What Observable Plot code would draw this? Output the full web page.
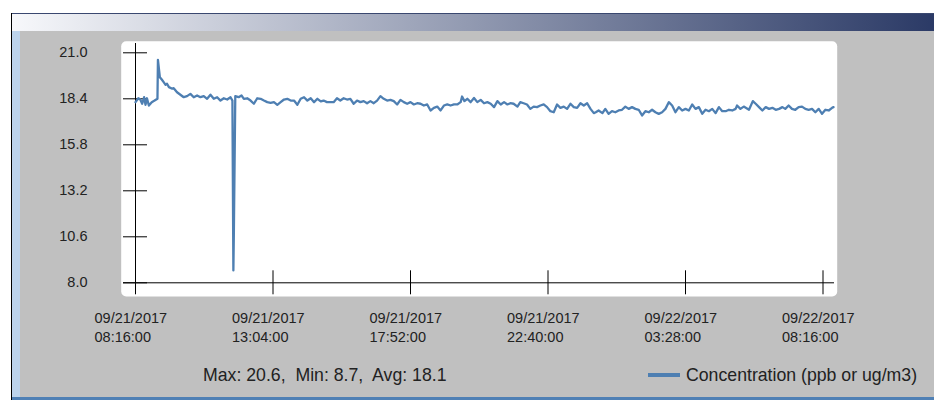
<!DOCTYPE html>
<html><head><meta charset="utf-8">
<script src="https://cdn.jsdelivr.net/npm/d3@7"></script>
<script src="https://cdn.jsdelivr.net/npm/@observablehq/plot@0.6"></script>
<style>
html,body{margin:0;padding:0;background:#fff;}
#win{position:relative;width:934px;height:400px;overflow:hidden;font-family:"Liberation Sans",Arial,sans-serif;}
.abs{position:absolute;}
</style></head><body>
<div id="win">
  <div class="abs" style="left:12px;top:13px;width:922px;height:18px;background:linear-gradient(to right,#f7f8fb,#2b3a66);border-top:1px solid #3a4870;box-sizing:border-box"></div>
  <div class="abs" style="left:11px;top:13px;width:1px;height:387px;background:#000"></div>
  <div class="abs" style="left:12px;top:31px;width:8px;height:369px;background:#bcd3ec"></div>
  <div class="abs" style="left:20px;top:31px;width:914px;height:366px;background:#c0c0c0"></div>
  <div class="abs" style="left:12px;top:397px;width:922px;height:3px;background:#4f80b5"></div>
  <div id="chart" class="abs" style="left:0;top:0"></div>
  <div id="stats" class="abs" style="left:203px;top:365px;font-size:17.7px;line-height:20px;color:#222;white-space:pre"></div>
  <div id="swatch" class="abs" style="left:648px;top:373px;width:32px;height:4px"></div>
  <div id="legend" class="abs" style="left:686px;top:365px;font-size:17.7px;line-height:20px;color:#222;white-space:pre"></div>
</div>
<script>
// Minutes after 09/21/2017 08:16:00, concentration reading
const series = [
  [0,18.21],[6,18.43],[10,18.36],[14,18.12],[18,18.49],[21,18.06],[24,18.43],[28,18.02],[34,18.21],[40,18.30],
  [46,18.40],[47,20.60],[49,20.10],[51,19.62],[55,19.49],[59,19.34],[63,19.19],[66,19.25],[70,19.06],[77,18.97],
  [80,19.00],[87,18.77],[94,18.63],[101,18.49],[108,18.55],[115,18.68],[122,18.49],[129,18.59],[136,18.49],[143,18.55],
  [150,18.40],[157,18.63],[164,18.40],[171,18.49],[178,18.30],[185,18.43],[192,18.36],[199,18.49],[203,18.30],[205,8.70],
  [206,10.80],[209,18.55],[216,18.49],[222,18.59],[227,18.40],[234,18.43],[241,18.30],[248,18.12],[255,18.43],[262,18.40],
  [269,18.30],[276,18.21],[283,18.17],[290,18.21],[297,18.06],[304,18.21],[311,18.36],[318,18.40],[325,18.30],[332,18.30],
  [339,18.06],[346,18.40],[353,18.49],[360,18.30],[367,18.43],[374,18.21],[381,18.40],[388,18.25],[394,18.30],[401,18.21],
  [408,18.21],[415,18.21],[422,18.43],[429,18.30],[436,18.43],[443,18.36],[450,18.40],[457,18.12],[464,18.30],
  [471,18.21],[478,18.27],[485,18.15],[492,18.27],[499,18.15],[506,18.30],[513,18.55],[520,18.40],[527,18.30],[534,18.34],
  [541,18.27],[548,18.08],[555,18.34],[562,18.21],[569,18.12],[576,18.21],[583,18.08],[590,18.15],[597,18.12],[604,18.02],
  [611,18.08],[618,17.74],[625,17.89],[632,17.96],[639,17.74],[646,18.02],[653,18.08],[660,18.02],[667,18.08],[674,18.08],
  [681,18.21],[684,18.53],[689,18.27],[695,18.40],[702,18.21],[709,18.45],[716,18.21],[723,18.34],[730,18.15],[737,18.21],
  [744,18.12],[751,17.93],[758,18.27],[765,18.08],[772,18.21],[779,18.08],[785,18.15],[792,18.12],[800,17.96],[806,18.21],
  [813,18.15],[820,18.08],[827,17.83],[834,17.96],[841,17.93],[848,18.02],[855,18.08],[862,17.93],[869,17.70],[876,17.64],
  [883,18.08],[890,17.89],[897,17.96],[904,17.83],[911,18.12],[918,17.93],[925,17.89],[932,18.15],[939,18.02],[946,18.15],
  [953,17.83],[960,17.59],
  [964,17.64],[970,17.74],[978,17.59],[984,17.83],[991,17.55],[998,17.70],[1005,17.64],[1012,17.74],[1019,17.78],[1026,17.96],
  [1033,17.83],[1040,17.93],[1047,17.83],[1054,17.78],[1061,17.46],[1068,17.70],[1075,17.64],[1082,17.78],[1089,17.64],[1096,17.55],
  [1103,17.64],[1110,17.83],[1117,18.21],[1124,18.02],[1131,17.64],[1138,17.93],[1145,17.74],[1152,17.83],[1159,17.74],[1166,18.08],
  [1173,17.83],[1180,17.93],[1187,17.55],[1194,17.78],[1201,17.70],[1208,17.83],[1215,17.59],[1222,17.93],[1229,17.70],[1236,17.70],
  [1243,17.78],[1250,17.74],[1257,17.83],[1260,18.02],[1267,17.83],[1274,17.96],[1285,17.78],[1293,18.27],[1299,18.12],[1306,17.93],
  [1313,17.74],[1320,17.93],[1327,17.83],[1334,17.89],[1341,17.78],[1348,17.83],[1355,17.93],[1361,17.83],[1368,18.02],[1375,17.83],
  [1382,17.78],[1389,17.93],[1396,17.96],[1403,17.83],[1410,17.78],[1417,17.83],[1424,17.64],[1431,17.83],[1438,17.55],[1445,17.78],
  [1452,17.74],[1459,17.89],[1462,17.93]
];
const startTime = "2017-09-21T08:16:00Z";
const endTime = "2017-09-22T08:16:00Z";
const xTickTimes = ["2017-09-21T08:16:00Z","2017-09-21T13:04:00Z","2017-09-21T17:52:00Z","2017-09-21T22:40:00Z","2017-09-22T03:28:00Z","2017-09-22T08:16:00Z"];
const yTicks = [8.0, 10.6, 13.2, 15.8, 18.4, 21.0];
const statsText = "Max: 20.6,  Min: 8.7,  Avg: 18.1";
const seriesName = "Concentration (ppb or ug/m3)";
const lineColor = "#4e7fb2";

const t0 = new Date(startTime);
const rows = series.map(([m, v]) => ({time: new Date(+t0 + m * 60000), value: v}));
const xTicks = xTickTimes.map(s => new Date(s));
const fmt = d3.utcFormat("%m/%d/%Y\n%H:%M:%S");

const chart = Plot.plot({
  width: 934, height: 400,
  marginLeft: 135, marginRight: 111.5, marginTop: 52.3, marginBottom: 117.7,
  x: {type: "utc", domain: [t0, new Date(endTime)]},
  y: {domain: [8, 21]},
  style: {background: "transparent", fontFamily: "'Liberation Sans', Arial, sans-serif", fontSize: "14.5px", color: "#222", overflow: "visible"},
  marks: [
    Plot.frame({fill: "white", stroke: null, rx: 5, insetLeft: -14.3, insetRight: -14.2, insetTop: -11.6, insetBottom: -13.7}),
    Plot.axisY({ticks: yTicks, tickSize: 24, dx: 12, tickFormat: () => "", stroke: "#000", label: null}),
    Plot.axisY({ticks: yTicks, tickSize: 0, tickPadding: 48, tickFormat: d => d.toFixed(1), label: null, fill: "#222"}),
    Plot.axisX({ticks: xTicks, tickSize: 24, dy: -12, tickFormat: () => "", stroke: "#000", label: null}),
    Plot.axisX({ticks: xTicks, tickSize: 0, tickPadding: 27, dx: -41, textAnchor: "start", lineHeight: 1.3, tickFormat: fmt, label: null, fill: "#222"}),
    Plot.ruleX([t0], {stroke: "#000", insetTop: -9.3, insetBottom: -11.7}),
    Plot.ruleY([8], {stroke: "#000", insetLeft: -12, insetRight: -11.5}),
    Plot.line(rows, {x: "time", y: "value", stroke: lineColor, strokeWidth: 2.3})
  ]
});
document.getElementById("chart").append(chart);
document.getElementById("stats").textContent = statsText;
document.getElementById("legend").textContent = seriesName;
document.getElementById("swatch").style.background = lineColor;
</script>
</body></html>
